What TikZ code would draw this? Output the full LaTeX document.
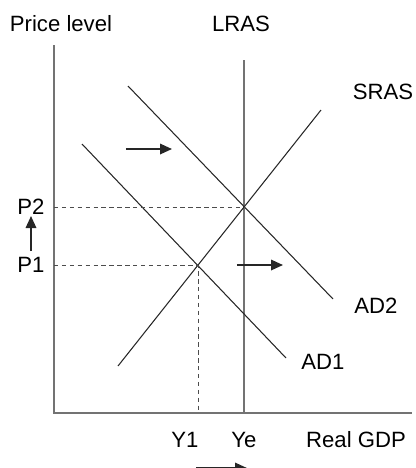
\documentclass[tikz,border=0pt]{standalone}
\usepackage{fontspec}
\setmainfont{Liberation Sans}
\usetikzlibrary{arrows,arrows.meta,positioning}

\tikzset{
  lbl/.style={font=\fontsize{12.6}{15}\selectfont, inner sep=0pt},
  axis/.style={draw=black!55, line width=0.8pt},
  curve/.style={draw=black!85, line width=0.6pt},
  guide/.style={draw=black!70, line width=0.5pt, dash pattern=on 2.5pt off 2pt},
  shiftarrow/.style={-{Triangle[length=2.4mm,width=2.1mm]}, line width=1pt, black!85}
}

\begin{document}
\begin{tikzpicture}[x=0.02cm, y=-0.02cm]
  \useasboundingbox (0,0) rectangle (416,468);

  % axes
  \coordinate (O) at (54,413);
  \coordinate (ytop) at (54,45);
  \coordinate (xend) at (412,413);
  \draw[axis] (ytop) -- (O) -- (xend);

  % curves
  \coordinate (lrastop) at (244,60);
  \coordinate (lrasbot) at (244,413);
  \coordinate (sraslo) at (118,366);
  \coordinate (srashi) at (321,110);
  \coordinate (adtwohi) at (128,86);
  \coordinate (adtwolo) at (333,299);
  \coordinate (adonehi) at (82,144);
  \coordinate (adonelo) at (286,358);
  \draw[axis, line width=0.6pt] (lrastop) -- (lrasbot);
  \draw[curve] (sraslo) -- (srashi);
  \draw[curve] (adtwohi) -- (adtwolo);
  \draw[curve] (adonehi) -- (adonelo);

  % equilibria
  \coordinate (E1) at (198,265);
  \coordinate (E2) at (244,207);
  \draw[guide] (O |- E2) -- (E2);
  \draw[guide] (O |- E1) -- (E1) -- (E1 |- O);

  % labels
  \node[lbl] (plevel) at (61,24) {Price level};
  \node[lbl] (lras) at (241,24) {LRAS};
  \node[lbl] (sras) at (383,92) {SRAS};
  \node[lbl] (ad2) at (376,306) {AD2};
  \node[lbl] (ad1) at (323,362) {AD1};
  \node[lbl] (p2) at (31,207) {P2};
  \node[lbl] (p1) at (31,265) {P1};
  \node[lbl] (y1) at (185,440) {Y1};
  \node[lbl] (ye) at (244,440) {Ye};
  \node[lbl] (gdp) at (356,440) {Real GDP};

  % shifts
  \coordinate (ua) at (31,251);
  \coordinate (ub) at (31,216);
  \draw[shiftarrow] (ua) -- (ub);
  \coordinate (ra) at (126,149);
  \coordinate (rb) at (172,149);
  \draw[shiftarrow] (ra) -- (rb);
  \coordinate (sa) at (237,265);
  \coordinate (sb) at (283,265);
  \draw[shiftarrow] (sa) -- (sb);
  \coordinate (ba) at (196,468);
  \coordinate (bb) at (247,468);
  \draw[shiftarrow] (ba) -- (bb);
\end{tikzpicture}
\end{document}
